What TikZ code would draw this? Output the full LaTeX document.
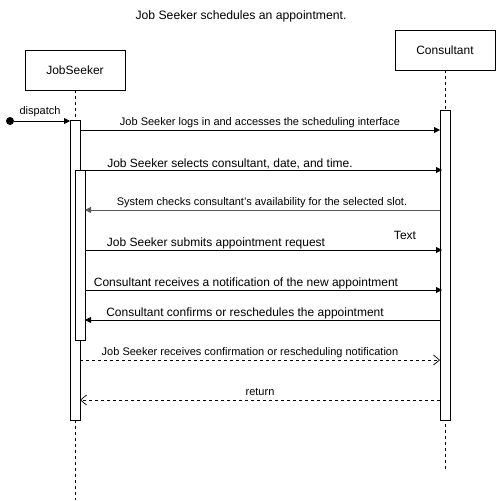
\documentclass[tikz,border=0pt]{standalone}
\usepackage{fontspec}
\setmainfont{Liberation Sans}
\usetikzlibrary{arrows.meta}
\begin{document}
\begin{tikzpicture}[x=1pt,y=-1pt,
  fs/.style={font=\fontsize{#1}{#1}\selectfont},
  actorbox/.style={draw, line width=0.8pt, minimum width=100pt, minimum height=40pt, inner sep=0pt, fs=12},
  actbar/.style={draw, fill=white, line width=0.8pt, minimum width=10pt, inner sep=0pt, anchor=north},
  lifeline/.style={line width=0.7pt, dash pattern=on 3pt off 3pt},
  syncmsg/.style={-{Triangle[length=6pt,width=6pt]}, line width=0.8pt},
  retmsg/.style={-{Straight Barb[length=6pt,width=10pt]}, line width=0.7pt, dash pattern=on 3pt off 3pt},
  lbl/.style={inner sep=0pt, anchor=center}
]
\useasboundingbox (0,0) rectangle (496,501);
\fill[white] (0,0) rectangle (496,501);

% title
\node[lbl, fs=12.2] (title) at (241,16) {Job Seeker schedules an appointment.};

% actors
\node[actorbox] (js) at (75,70) {JobSeeker};
\node[actorbox] (cs) at (445,50) {Consultant};

% lifelines
\coordinate (jsend) at (75,500);
\coordinate (csend) at (445,470);
\draw[lifeline] (js.south) -- (jsend);
\draw[lifeline] (cs.south) -- (csend);

% activations
\node[actbar, minimum height=300pt] (ja) at (75,120) {};
\node[actbar, minimum height=170pt] (jb) at (80,170) {};
\node[actbar, minimum height=310pt] (ca) at (445,110) {};

% dispatch
\node[circle, fill=black, inner sep=0pt, minimum size=8pt] (start) at (10,121) {};
\coordinate (jain) at (70,121);
\draw[syncmsg] (start) -- (jain);
\node[lbl, fs=11] (dlbl) at (40,112) {dispatch};

% message end points
\coordinate (a1) at (80,130);  \coordinate (b1) at (440,130);
\coordinate (a2) at (85,170);  \coordinate (b2) at (442,170);
\coordinate (a3) at (85,210);  \coordinate (b3) at (440,210);
\coordinate (a4) at (85,250);  \coordinate (b4) at (442,250);
\coordinate (a5) at (85,290);  \coordinate (b5) at (442,290);
\coordinate (a6) at (85,320);  \coordinate (b6) at (440,320);
\coordinate (a7) at (80,360);  \coordinate (b7) at (440,360);
\coordinate (a8) at (80,400);  \coordinate (b8) at (440,400);

\draw[syncmsg] (a1) -- (b1);
\node[lbl, fs=11] (l1) at (260,122.5) {Job Seeker logs in and accesses the scheduling interface};

\draw[syncmsg] (a2) -- (b2);
\node[lbl, fs=12] (l2) at (230,163.5) {Job Seeker selects consultant, date, and time.};

\draw[syncmsg, draw=black!65] (b3) -- (a3);
\node[lbl, fs=11] (l3) at (262,202.5) {System checks consultant's availability for the selected slot.};

\draw[syncmsg] (a4) -- (b4);
\node[lbl, fs=12] (l4) at (216,243.5) {Job Seeker submits appointment request};
\node[lbl, fs=12] (txt) at (405,235) {Text};

\draw[syncmsg] (a5) -- (b5);
\node[lbl, fs=12] (l5) at (246,283.5) {Consultant receives a notification of the new appointment};

\draw[syncmsg] (b6) -- (a6);
\node[lbl, fs=12] (l6) at (245,313.5) {Consultant confirms or reschedules the appointment};

\draw[retmsg] (a7) -- (b7);
\node[lbl, fs=11] (l7) at (250,352.5) {Job Seeker receives confirmation or rescheduling notification};

\draw[retmsg] (b8) -- (a8);
\node[lbl, fs=11] (l8) at (260,391.5) {return};
\end{tikzpicture}
\end{document}
